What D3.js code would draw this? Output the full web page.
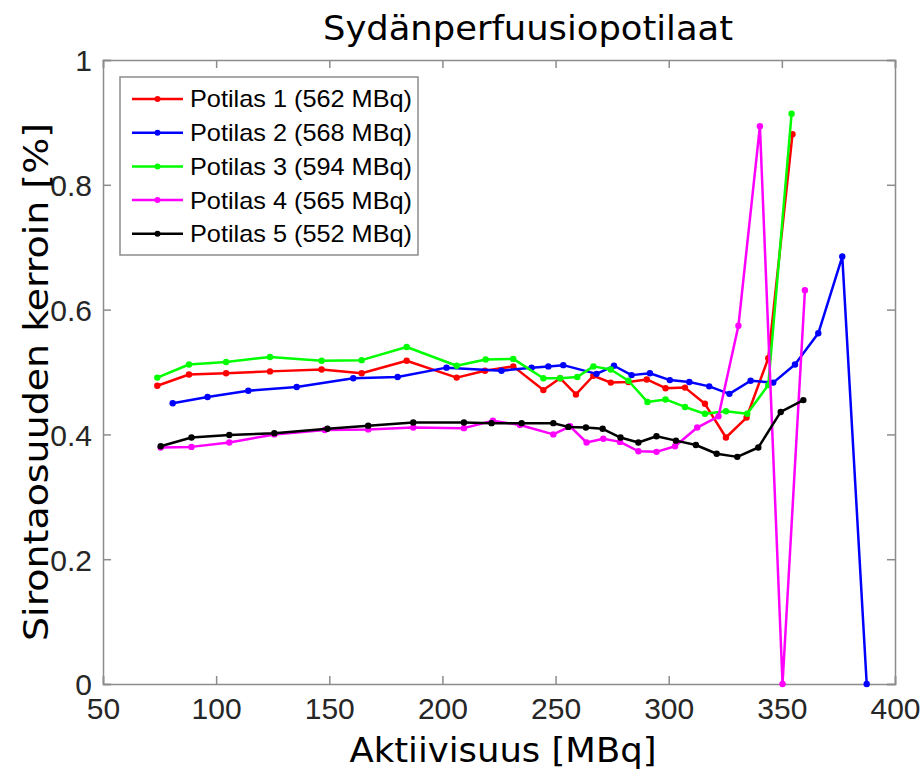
<!DOCTYPE html>
<html>
<head>
<meta charset="utf-8">
<script src="https://cdn.jsdelivr.net/npm/d3@7"></script>
<style>
  body { margin: 0; background: #fff; }
  svg { display: block; }
  .tick text { font-family: "Liberation Sans Narrow", "Liberation Sans", Arial, sans-serif; font-size: 30px; fill: #262626; }
  .lbl { font-family: "DejaVu Sans Condensed", "DejaVu Sans", sans-serif; fill: #000; }
  .leg { font-family: "Liberation Sans", Arial, sans-serif; font-size: 24px; fill: #000; }
</style>
</head>
<body>
<svg width="924" height="773"></svg>
<script>
// legend names
const names = ["Potilas 1 (562 MBq)", "Potilas 2 (568 MBq)", "Potilas 3 (594 MBq)",
  "Potilas 4 (565 MBq)", "Potilas 5 (552 MBq)"];
const colors = ["#ff0000", "#0000ff", "#00ff00", "#ff00ff", "#000000"];

// activity [MBq] and scatter coefficient [%]
const p1x = [74, 88, 104.4, 123.8, 146.6, 164.3, 184.2, 206.3, 218.8, 231.3, 244.6, 252, 259, 266.7, 274.4, 282.2, 290.3, 298.6, 307.2, 316, 325.3, 334.4, 344, 354.7];
const p1y = [.478, .496, .498, .501, .504, .498, .518, .491, .502, .509, .471, .490, .464, .494, .483, .484, .488, .474, .475, .449, .395, .427, .522, .881];

const p2x = [80.8, 96.2, 114.2, 135.6, 160.6, 180.2, 201.8, 226.1, 239.4, 246.8, 253.4, 268.1, 275.8, 283.6, 291.7, 300.5, 309.1, 317.9, 326.8, 336.2, 346.2, 355.8, 366.1, 376.7, 387.5];
const p2y = [.450, .460, .470, .476, .490, .492, .507, .502, .507, .509, .511, .497, .510, .495, .498, .487, .484, .477, .465, .486, .483, .512, .562, .685, 0];

const p3x = [74, 88, 104.4, 123.8, 146.6, 164.3, 184.2, 206.3, 219.1, 231.3, 244.6, 252, 259.6, 266.7, 274.4, 282.2, 290.6, 298.6, 307.2, 316, 325.3, 334.7, 344, 354.3];
const p3y = [.491, .512, .516, .524, .518, .519, .540, .510, .520, .521, .490, .490, .492, .509, .504, .486, .452, .456, .444, .433, .437, .433, .479, .914];

const p4x = [75.5, 89.1, 105.8, 125.7, 148, 167.2, 187.1, 209.5, 222.3, 234.3, 249, 256.4, 263.7, 271.1, 278.5, 286.6, 294.6, 302.8, 312.6, 322, 330.8, 340.3, 350.3, 360.2];
const p4y = [.379, .380, .387, .400, .407, .408, .411, .410, .422, .415, .400, .413, .387, .393, .388, .373, .372, .381, .411, .429, .574, .894, 0, .631];

const p5x = [75.5, 89.1, 105.8, 125.7, 149.2, 167.2, 187.1, 209.5, 221.7, 235, 249, 255.6, 263.4, 270.8, 278.7, 286.6, 294.6, 303.2, 312, 321.2, 330.3, 339.6, 349.5, 359.5];
const p5y = [.381, .395, .399, .402, .409, .414, .419, .419, .418, .418, .418, .412, .411, .409, .395, .387, .397, .390, .383, .369, .364, .379, .436, .455];

const xTicks = [50, 100, 150, 200, 250, 300, 350, 400];
const yTicks = [0, 0.2, 0.4, 0.6, 0.8, 1];

const series = [[p1x, p1y], [p2x, p2y], [p3x, p3y], [p4x, p4y], [p5x, p5y]]
  .map(([xs, ys], i) => ({ name: names[i], color: colors[i], pts: xs.map((x, j) => [x, ys[j]]) }));

const svg = d3.select("svg");
const L = 103, R = 895, T = 60, B = 684;

const x = d3.scaleLinear().domain([50, 400]).range([L, R]);
const y = d3.scaleLinear().domain([0, 1]).range([B, T]);

const axisCol = "#8c8c8c";
const tickFmt = d => d === 0 || d === 1 ? d3.format("d")(d) : d3.format(".1f")(d);

// axes with inward ticks, MATLAB style box
const gx = svg.append("g").attr("transform", `translate(0,${B})`)
  .call(d3.axisBottom(x).tickValues(xTicks).tickSize(-8).tickPadding(14).tickFormat(d3.format("d")));
const gy = svg.append("g").attr("transform", `translate(${L},0)`)
  .call(d3.axisLeft(y).tickValues(yTicks).tickSize(-8).tickPadding(11).tickFormat(tickFmt));
const gxt = svg.append("g").attr("transform", `translate(0,${T})`)
  .call(d3.axisTop(x).tickValues(xTicks).tickSize(-8).tickFormat(""));
const gyr = svg.append("g").attr("transform", `translate(${R},0)`)
  .call(d3.axisRight(y).tickValues(yTicks).tickSize(-8).tickFormat(""));

[gx, gy, gxt, gyr].forEach(g => {
  g.select(".domain").attr("stroke", axisCol).attr("stroke-width", 1.5);
  g.selectAll(".tick line").attr("stroke", axisCol).attr("stroke-width", 1.5);
});
gx.selectAll(".tick text").attr("dy", "0.71em");
gy.selectAll(".tick text").attr("dy", "0.36em");

// data lines
const line = d3.line().x(d => x(d[0])).y(d => y(d[1]));
const gs = svg.append("g").selectAll("g").data(series).join("g");
gs.append("path")
  .attr("d", d => line(d.pts))
  .attr("fill", "none")
  .attr("stroke", d => d.color)
  .attr("stroke-width", 2.5)
  .attr("stroke-linejoin", "round");
gs.selectAll("circle").data(d => d.pts.map(p => [p, d.color])).join("circle")
  .attr("cx", d => x(d[0][0]))
  .attr("cy", d => y(d[0][1]))
  .attr("r", 3.2)
  .attr("fill", d => d[1]);

// titles
svg.append("text").attr("class", "lbl")
  .attr("x", 528).attr("y", 40)
  .attr("text-anchor", "middle").attr("font-size", 34)
  .attr("textLength", 410).attr("lengthAdjust", "spacingAndGlyphs")
  .text("Sydänperfuusiopotilaat");
svg.append("text").attr("class", "lbl")
  .attr("x", 503).attr("y", 762)
  .attr("text-anchor", "middle").attr("font-size", 34)
  .attr("textLength", 307).attr("lengthAdjust", "spacingAndGlyphs")
  .text("Aktiivisuus [MBq]");
svg.append("text").attr("class", "lbl")
  .attr("transform", "translate(48,382) rotate(-90)")
  .attr("text-anchor", "middle").attr("font-size", 34)
  .attr("textLength", 518).attr("lengthAdjust", "spacingAndGlyphs")
  .text("Sirontaosuuden kerroin [%]");

// legend
const lg = svg.append("g");
lg.append("rect").attr("x", 120).attr("y", 77).attr("width", 298).attr("height", 178)
  .attr("fill", "#fff").attr("stroke", axisCol).attr("stroke-width", 1.5);
const items = lg.selectAll("g").data(series).join("g")
  .attr("transform", (d, i) => `translate(0,${99 + i * 33.7})`);
items.append("line").attr("x1", 132).attr("x2", 183)
  .attr("stroke", d => d.color).attr("stroke-width", 2.5);
items.append("circle").attr("cx", 157.5).attr("r", 3).attr("fill", d => d.color);
items.append("text").attr("class", "leg").attr("x", 190).attr("dy", "0.35em")
  .attr("textLength", 222).attr("lengthAdjust", "spacingAndGlyphs")
  .text(d => d.name);
</script>
</body>
</html>
